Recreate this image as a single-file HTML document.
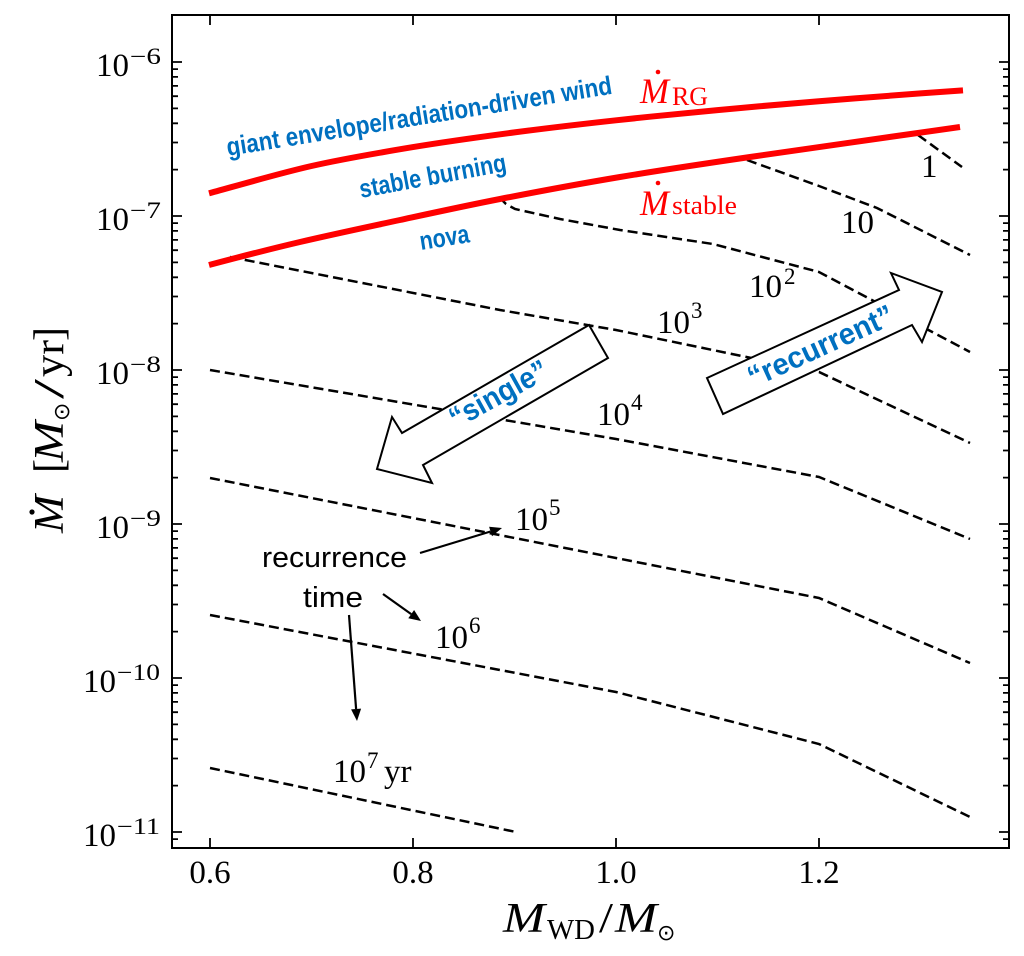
<!DOCTYPE html>
<html><head><meta charset="utf-8"><style>
html,body{margin:0;padding:0;background:#fff}
svg{display:block}
.serif{font-family:"Liberation Serif","DejaVu Serif",serif}
.it{font-style:italic}
.blue{font-family:"Liberation Sans","DejaVu Sans",sans-serif;font-weight:bold;fill:#0070c0}
.sans{font-family:"Liberation Sans","DejaVu Sans",sans-serif;fill:#000}
</style></head><body>
<svg width="1024" height="956" viewBox="0 0 1024 956" xmlns="http://www.w3.org/2000/svg">
<rect width="1024" height="956" fill="#fff"/>

<!-- dashed recurrence-time contours -->
<g fill="none" stroke="#000" stroke-width="2.5" stroke-dasharray="10 5">
  <polyline points="210,768 516,832"/>
  <polyline points="210,615 616,692 819,744 970,817"/>
  <polyline points="210,478 819,598 970,663"/>
  <polyline points="210,370 616,439 819,477 970,539"/>
  <polyline points="230,257 500,310 616,330 819,372 970,443"/>
  <polyline points="499,197 506,204 515,209 560,219 620,230 713,244 819,272 970,352"/>
  <polyline points="747,160 819,186 877,208 970,255"/>
  <polyline points="918,135 962,167"/>
</g>

<!-- red critical lines -->
<g fill="none" stroke="#ff0000" stroke-width="6" stroke-linejoin="round">
  <path d="M209,193.3 C226.1,188.8 277.5,173.7 311.5,166 C345.5,158.3 379.2,152.7 413,147.1 C446.8,141.5 480.7,136.9 514.5,132.4 C548.3,127.9 582.2,124 616,120.3 C649.8,116.6 683.7,113.3 717.5,110.1 C751.3,106.9 785.2,104 819,101.2 C852.8,98.4 896.5,95.2 920.5,93.4 C944.5,91.6 955.9,90.9 963,90.4"/>
  <path d="M209,265 C223.3,261.2 268,249.5 300,242 C332,234.5 366.7,227.2 400,220 C433.3,212.8 463.3,206.2 500,199 C536.7,191.8 578.3,184 620,177 C661.7,170 693.3,165.3 750,157 C806.7,148.7 925,132 960,127"/>
</g>

<!-- big hollow arrows -->
<polygon points="589,325 608,358 423,465 432,483 377,469 392,417 402,433" fill="#fff" stroke="#000" stroke-width="2" stroke-linejoin="miter"/>
<polygon points="707,378 899,290 891,273 942,292 922,342 912,325 723,414" fill="#fff" stroke="#000" stroke-width="2" stroke-linejoin="miter"/>

<!-- blue annotations -->
<text class="blue" font-size="26" transform="translate(228,156) rotate(-9.2)" textLength="390" lengthAdjust="spacingAndGlyphs">giant envelope/radiation-driven wind</text>
<text class="blue" font-size="26" transform="translate(361,198) rotate(-10.5)" textLength="149" lengthAdjust="spacingAndGlyphs">stable burning</text>
<text class="blue" font-size="26" transform="translate(421,250) rotate(-9)" textLength="50" lengthAdjust="spacingAndGlyphs">nova</text>
<text class="blue" font-size="30" text-anchor="middle" transform="translate(499,395) rotate(-29)" y="9" textLength="108" lengthAdjust="spacingAndGlyphs">“single”</text>
<text class="blue" font-size="30" text-anchor="middle" transform="translate(821,347) rotate(-24.5)" y="9" textLength="157" lengthAdjust="spacingAndGlyphs">“recurrent”</text>

<!-- red labels -->
<g fill="#ff0000" class="serif">
  <text class="serif it" x="640" y="103" font-size="36" textLength="29" lengthAdjust="spacingAndGlyphs">M</text>
  <circle cx="658" cy="72" r="2.3"/>
  <text class="serif" x="672" y="105" font-size="26" textLength="36" lengthAdjust="spacingAndGlyphs">RG</text>
  <text class="serif it" x="640" y="215" font-size="36" textLength="29" lengthAdjust="spacingAndGlyphs">M</text>
  <circle cx="658" cy="183" r="2.3"/>
  <text class="serif" x="672" y="214" font-size="26" textLength="65" lengthAdjust="spacingAndGlyphs">stable</text>
</g>

<!-- contour labels -->
<g class="serif" fill="#000">
  <text x="921" y="177" font-size="33">1</text>
  <text x="841" y="233" font-size="33">10</text>
  <text x="749" y="297" font-size="33">10</text><text x="784" y="284" font-size="23">2</text>
  <text x="657" y="333" font-size="33">10</text><text x="691" y="318" font-size="23">3</text>
  <text x="597" y="425" font-size="33">10</text><text x="631" y="410" font-size="23">4</text>
  <text x="515" y="530" font-size="33">10</text><text x="549" y="515" font-size="23">5</text>
  <text x="435" y="648" font-size="33">10</text><text x="469" y="633" font-size="23">6</text>
  <text x="333" y="782" font-size="33">10</text><text x="367" y="768" font-size="23">7</text>
  <text x="384" y="782" font-size="33">yr</text>
</g>

<!-- recurrence time annotation -->
<text class="sans" x="262" y="567" font-size="29" textLength="145" lengthAdjust="spacingAndGlyphs">recurrence</text>
<text class="sans" x="303" y="607" font-size="29" textLength="60" lengthAdjust="spacingAndGlyphs">time</text>
<g stroke="#000" stroke-width="2.2" fill="none">
  <line x1="420" y1="553" x2="490.5" y2="531.5"/>
  <line x1="383" y1="594" x2="411.2" y2="614.1"/>
  <line x1="349" y1="615" x2="356.1" y2="709"/>
</g>
<g fill="#000">
  <polygon points="502,528 492,536.3 489.1,526.7"/>
  <polygon points="421,621 408.3,618.2 414.1,610"/>
  <polygon points="357,721 351.1,709.4 361.1,708.6"/>
</g>

<!-- ticks -->
<g fill="none" stroke="#000" stroke-width="1.8">
  <path id="yt" d="M172 62h10M172 216h10M172 370h10M172 524h10M172 678h10M172 832h10
  M172 69.1h6M172 76.9h6M172 85.9h6M172 96.2h6M172 108.4h6M172 123.3h6M172 142.5h6M172 169.6h6
  M172 223.1h6M172 230.9h6M172 239.9h6M172 250.2h6M172 262.4h6M172 277.3h6M172 296.5h6M172 323.6h6
  M172 377.1h6M172 384.9h6M172 393.9h6M172 404.2h6M172 416.4h6M172 431.3h6M172 450.5h6M172 477.6h6
  M172 531.1h6M172 538.9h6M172 547.9h6M172 558.2h6M172 570.4h6M172 585.3h6M172 604.5h6M172 631.6h6
  M172 685.1h6M172 692.9h6M172 701.9h6M172 712.2h6M172 724.4h6M172 739.3h6M172 758.5h6M172 785.6h6
  M172 839.1h6"/>
  <use href="#yt" transform="translate(1181,0) scale(-1,1)"/>
  <path d="M210 848v-10M413 848v-10M616 848v-10M819 848v-10M210 15v10M413 15v10M616 15v10M819 15v10"/>
</g>
<rect x="172" y="15" width="837" height="833" fill="none" stroke="#000" stroke-width="2"/>

<!-- tick labels -->
<g class="serif" fill="#000">
  <text x="210" y="883" font-size="33" text-anchor="middle">0.6</text>
  <text x="413" y="883" font-size="33" text-anchor="middle">0.8</text>
  <text x="616" y="883" font-size="33" text-anchor="middle">1.0</text>
  <text x="819" y="883" font-size="33" text-anchor="middle">1.2</text>

  <text x="96" y="76" font-size="33">10</text><text x="130" y="64" font-size="23" textLength="31" lengthAdjust="spacingAndGlyphs">−6</text>
  <text x="96" y="230" font-size="33">10</text><text x="130" y="218" font-size="23" textLength="31" lengthAdjust="spacingAndGlyphs">−7</text>
  <text x="96" y="384" font-size="33">10</text><text x="130" y="372" font-size="23" textLength="31" lengthAdjust="spacingAndGlyphs">−8</text>
  <text x="96" y="538" font-size="33">10</text><text x="130" y="526" font-size="23" textLength="31" lengthAdjust="spacingAndGlyphs">−9</text>
  <text x="83" y="692" font-size="33">10</text><text x="117" y="680" font-size="23" textLength="43" lengthAdjust="spacingAndGlyphs">−10</text>
  <text x="83" y="846" font-size="33">10</text><text x="117" y="834" font-size="23" textLength="43" lengthAdjust="spacingAndGlyphs">−11</text>
</g>

<!-- x label -->
<g fill="#000">
  <text class="serif it" x="503" y="932" font-size="42" textLength="42" lengthAdjust="spacingAndGlyphs">M</text>
  <text class="serif" x="547" y="939" font-size="29" textLength="48" lengthAdjust="spacingAndGlyphs">WD</text>
  <text class="serif" x="599" y="932" font-size="42" textLength="14" lengthAdjust="spacingAndGlyphs">/</text>
  <text class="serif it" x="615" y="932" font-size="42" textLength="42" lengthAdjust="spacingAndGlyphs">M</text>
  <text x="657" y="940" font-size="22" font-family="DejaVu Sans, sans-serif">⊙</text>
</g>

<!-- y label -->
<g fill="#000" transform="translate(63,533) rotate(-90)">
  <text class="serif it" x="0" y="0" font-size="42" textLength="38" lengthAdjust="spacingAndGlyphs">M</text>
  <circle cx="21" cy="-31" r="2.6"/>
  <text class="serif" x="60" y="0" font-size="42">[</text>
  <text class="serif it" x="71" y="0" font-size="42" textLength="41" lengthAdjust="spacingAndGlyphs">M</text>
  <text x="112" y="6" font-size="22" font-family="DejaVu Sans, sans-serif">⊙</text>
  <text class="serif" x="134" y="0" font-size="42" textLength="20" lengthAdjust="spacingAndGlyphs">/</text>
  <text class="serif" x="156" y="0" font-size="42" textLength="37" lengthAdjust="spacingAndGlyphs">yr</text>
  <text class="serif" x="192" y="0" font-size="42">]</text>
</g>
</svg>
</body></html>
